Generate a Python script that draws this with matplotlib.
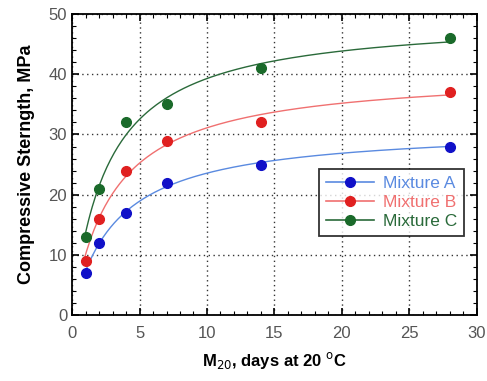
import numpy as np
import matplotlib.pyplot as plt
from matplotlib.ticker import MultipleLocator

plt.rcParams['font.family'] = ['Liberation Sans', 'DejaVu Sans']

# test ages (days) and measured strengths (MPa)
days = [1, 2, 4, 7, 14, 28]
mix_a = [7, 12, 17, 22, 25, 28]
mix_b = [9, 16, 24, 29, 32, 37]
mix_c = [13, 21, 32, 35, 41, 46]

series = [
    ('Mixture A', mix_a, '#1010c8', '#5a8ae0'),
    ('Mixture B', mix_b, '#e02020', '#f07070'),
    ('Mixture C', mix_c, '#1a6a2a', '#2a6a3a'),
]


def hyperbolic_fit(t, s):
    # S = Su*k*t/(1+k*t), least squares over k, Su solved linearly
    t = np.asarray(t, float)
    s = np.asarray(s, float)
    best = None
    for k in np.linspace(0.05, 3, 600):
        g = k * t / (1 + k * t)
        su = (g @ s) / (g @ g)
        err = np.sum((su * g - s) ** 2)
        if best is None or err < best[0]:
            best = (err, su, k)
    return best[1], best[2]


fig = plt.figure(figsize=(4.87, 3.81), dpi=100)
ax = fig.add_axes([0.148, 0.173, 0.831, 0.79])

tt = np.linspace(0.95, 28, 200)
for name, vals, mcol, lcol in series:
    su, k = hyperbolic_fit(days, vals)
    ax.plot(tt, su * k * tt / (1 + k * tt), color=lcol, lw=1.0, zorder=2)
    ax.plot(days, vals, 'o', color=mcol, ms=7, zorder=3)
    ax.plot([], [], '-o', color=lcol, mfc=mcol, mec=mcol, ms=7, lw=1.2, label=name)

ax.set_xlim(0, 30)
ax.set_ylim(0, 50)
ax.xaxis.set_major_locator(MultipleLocator(5))
ax.xaxis.set_minor_locator(MultipleLocator(1))
ax.yaxis.set_major_locator(MultipleLocator(10))
ax.yaxis.set_minor_locator(MultipleLocator(2))
ax.tick_params(which='both', direction='in', top=True, right=True, colors='black',
               labelcolor='#555555', labelsize=12)
ax.tick_params(which='major', length=5, width=1.2)
ax.tick_params(which='minor', length=3, width=0.8)
ax.tick_params(axis='x', pad=8)
for sp in ax.spines.values():
    sp.set_linewidth(1.3)

ax.grid(True, which='major', color='black', linestyle=(0, (1, 2.5)), lw=1.0, alpha=0.8)
ax.set_axisbelow(True)

ax.set_ylabel('Compressive Sterngth, MPa', fontsize=13, fontweight='bold', labelpad=10)
ax.set_xlabel(r'M$_{20}$, days at 20 $^{\mathrm{o}}$C', fontsize=12, fontweight='bold',
              labelpad=6)

leg = ax.legend(loc='lower right', bbox_to_anchor=(0.99, 0.235), frameon=True,
                fancybox=False, edgecolor='black', fontsize=12.5, handlelength=2.8,
                borderpad=0.4, labelspacing=0.2, handletextpad=0.5)
leg.get_frame().set_linewidth(1.3)
for txt, (name, vals, mcol, lcol) in zip(leg.get_texts(), series):
    txt.set_color(lcol)

fig.savefig('out.png', dpi=100)
